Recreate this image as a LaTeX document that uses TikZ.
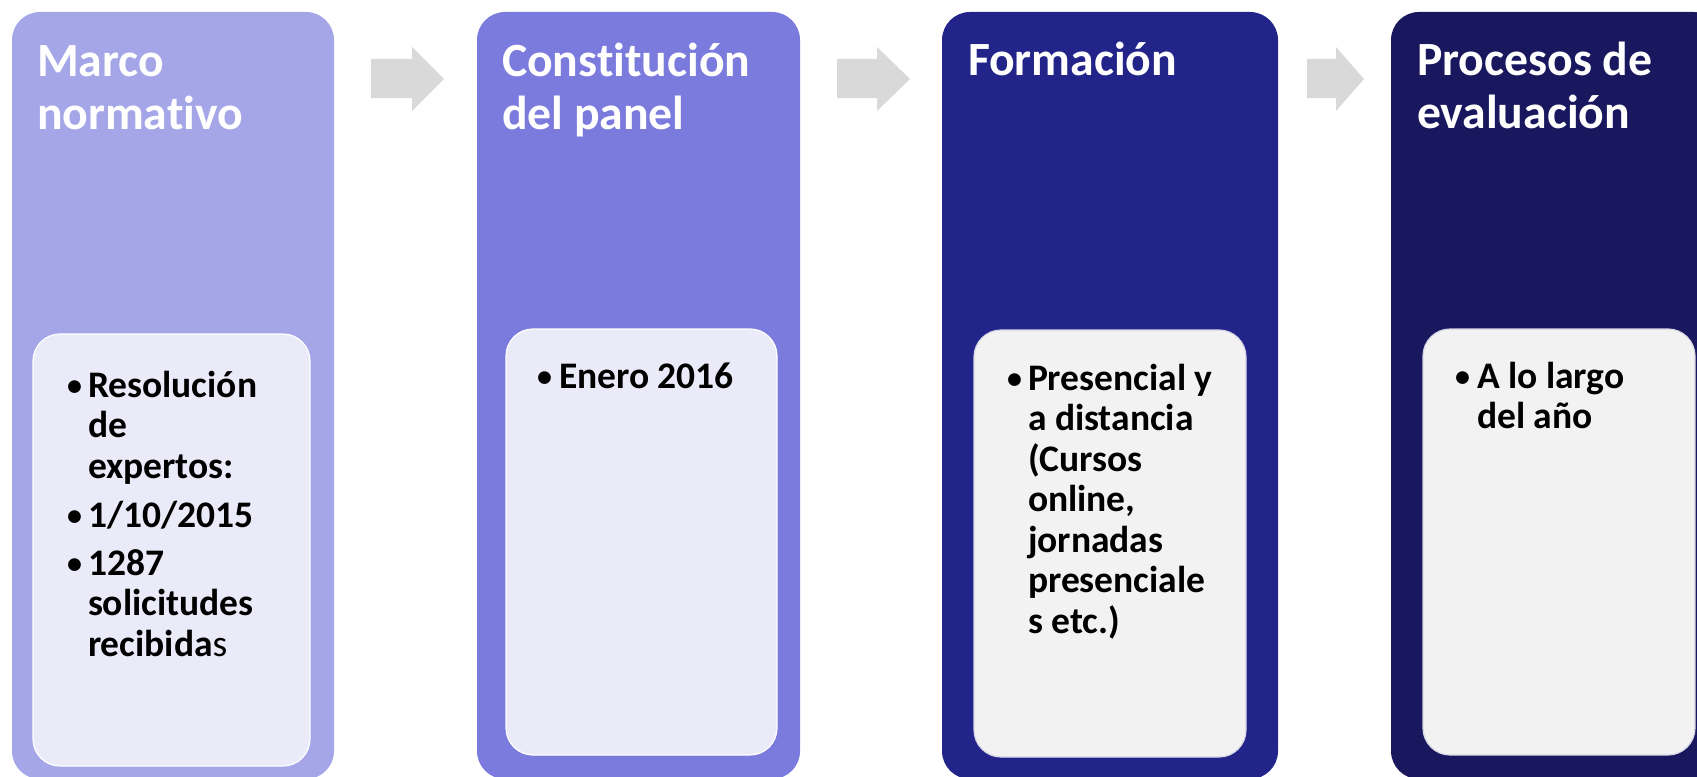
\documentclass[tikz,border=0pt]{standalone}
\usepackage{fontspec}
\setmainfont{Carlito}[Ligatures={NoCommon}]
\definecolor{panelA}{HTML}{A5A6E8}
\definecolor{panelB}{HTML}{7B7ADD}
\definecolor{panelC}{HTML}{23248A}
\definecolor{panelD}{HTML}{19185E}
\definecolor{arrowgray}{HTML}{D9D9D9}
\definecolor{softlav}{HTML}{EAEAF8}
\definecolor{softgray}{HTML}{F2F2F2}
\definecolor{rimgray}{HTML}{D6D6E4}
\newcommand\titlefont{\fontsize{47.7bp}{52bp}\selectfont\bfseries}
\newcommand\bodyfont{\fontsize{37.5bp}{40.5bp}\selectfont\bfseries}
\newcommand\bulletfont{\fontsize{30bp}{40.5bp}\selectfont\bfseries}
\tikzset{
  panel/.style={rectangle, rounded corners=28bp, inner sep=0pt, outer sep=0pt, anchor=north west, draw=none},
  innerbox/.style={rectangle, rounded corners=27bp, inner sep=0pt, outer sep=0pt, anchor=north west, line width=1.2bp},
  titletext/.style={anchor=base west, inner sep=0pt, outer sep=0pt, text=white, font=\titlefont, text width=320bp, align=flush left},
  itemtext/.style={anchor=base west, inner sep=0pt, outer sep=0pt, text=black, font=\bodyfont, text width=250bp, align=flush left},
  bulletmark/.style={anchor=base west, inner sep=0pt, outer sep=0pt, text=black, font=\bulletfont},
  blockarrow/.style={fill=arrowgray, draw=none}
}
\begin{document}
\begin{tikzpicture}[x=1bp,y=-1bp]
\clip (0,0) rectangle (1697,777);
\fill[white] (0,0) rectangle (1697,777);

% panels
\node[panel, fill=panelA, minimum width=322bp, minimum height=767bp] (p1) at (12,12) {};
\node[panel, fill=panelB, minimum width=323bp, minimum height=767bp] (p2) at (477,12) {};
\node[panel, fill=panelC, minimum width=336bp, minimum height=767bp] (p3) at (942,12) {};
\node[panel, fill=panelD, minimum width=330bp, minimum height=767bp] (p4) at (1391,12) {};

% inner boxes
\node[innerbox, fill=softlav, draw=white, minimum width=277bp, minimum height=432bp] (b1) at (33,334) {};
\node[innerbox, fill=softlav, draw=white, minimum width=271bp, minimum height=426bp] (b2) at (506,329) {};
\node[innerbox, fill=softgray, draw=rimgray, minimum width=272bp, minimum height=427bp] (b3) at (974,330) {};
\node[innerbox, fill=softgray, draw=rimgray, minimum width=272bp, minimum height=426bp] (b4) at (1423,329) {};

% arrows
\coordinate (a1s) at (371,79);
\coordinate (a2s) at (837,79);
\coordinate (a3s) at (1307,79);
\fill[blockarrow] (a1s) ++(0,-20) -- (412,59) -- (412,47) -- (444,79) -- (412,111) -- (412,98) -- (371,98) -- cycle;
\fill[blockarrow] (a2s) ++(0,-20) -- (877,59) -- (877,47) -- (910,79) -- (877,111) -- (877,98) -- (837,98) -- cycle;
\fill[blockarrow] (a3s) ++(0,-20) -- (1336,59) -- (1336,47) -- (1364,79) -- (1336,111) -- (1336,98) -- (1307,98) -- cycle;

% titles
\node[titletext] (t1) at (37,77) {Marco\\normativo};
\node[titletext] (t2) at (502,77) {Constitución\\del panel};
\node[titletext] (t3) at (968,76) {Formación};
\node[titletext] (t4) at (1417,76) {Procesos de\\evaluación};

% panel 1 items
\node[bulletmark] (d11) at (67,395) {•};
\node[itemtext] (i11) at (88,397) {Resolución\\de\\expertos:};
\node[bulletmark] (d12) at (67,525) {•};
\node[itemtext] (i12) at (88,527) {1/10/2015};
\node[bulletmark] (d13) at (67,573) {•};
\node[itemtext] (i13) at (88,575) {1287\\solicitudes\\recibida{\mdseries s}};

% panel 2 items
\node[bulletmark] (d21) at (537,386) {•};
\node[itemtext] (i21) at (559,388) {Enero 2016};

% panel 3 items
\node[bulletmark] (d31) at (1007,388) {•};
\node[itemtext] (i31) at (1028,390) {Presencial y\\a distancia\\(Cursos\\online,\\jornadas\\presenciale\\s etc.)};

% panel 4 items
\node[bulletmark] (d41) at (1455,386) {•};
\node[itemtext] (i41) at (1477,388) {A lo largo\\del año};
\end{tikzpicture}
\end{document}
